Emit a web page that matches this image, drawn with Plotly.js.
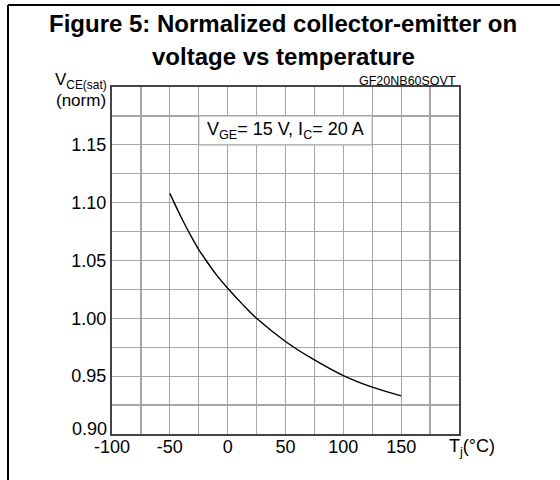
<!DOCTYPE html>
<html>
<head>
<meta charset="utf-8">
<script src="https://cdn.plot.ly/plotly-3.0.1.min.js"></script>
<style>
  html, body { margin: 0; padding: 0; background: #fff; }
  #chart { width: 560px; height: 480px; }
</style>
</head>
<body>
<div id="chart"></div>
<script>
// Data
const tempC = [-50, -40, -30, -25, -20, -10, 0, 12.5, 25, 50, 75, 100, 125, 150];
const vceNorm = [1.108, 1.087, 1.068, 1.0595, 1.052, 1.038, 1.026, 1.0125, 1.000, 0.980, 0.964, 0.9505, 0.9405, 0.933];

const xTickVals = [-100, -50, 0, 50, 100, 150];
const xTickText = ['-100', '-50', '0', '50', '100', '150'];
const xGridVals = [-100, -75, -50, -25, 0, 25, 50, 75, 100, 125, 150, 175, 200];
const yTickVals = [0.95, 1.00, 1.05, 1.10, 1.15];
const yTickText = ['0.95', '1.00', '1.05', '1.10', '1.15'];
const yBottomLabel = '0.90';
const yGridVals = [0.90, 0.925, 0.95, 0.975, 1.00, 1.025, 1.05, 1.075, 1.10, 1.125, 1.15, 1.175, 1.20];

const FONT = 'Liberation Sans, Arial, Helvetica, sans-serif';
const GRID = '#a6a6a6';

const trace = {
  x: tempC,
  y: vceNorm,
  type: 'scatter',
  mode: 'lines',
  line: { color: '#000', width: 1.4, shape: 'spline', smoothing: 1 },
  hoverinfo: 'skip'
};

// pixel -> paper helpers (plot area: x 112..459, y 87..434)
const L = 112, R = 459, T = 87, B = 434;
const px = v => (v - L) / (R - L);
const py = v => (B - v) / (B - T);

const layout = {
  width: 560,
  height: 480,
  margin: { l: L, r: 560 - R, t: T, b: 480 - B, pad: 0 },
  paper_bgcolor: '#fff',
  plot_bgcolor: '#fff',
  showlegend: false,
  font: { family: FONT, color: '#000', size: 18 },
  xaxis: {
    range: [-100, 200],
    tickmode: 'array', tickvals: xTickVals, ticktext: xTickText,
    showgrid: true, gridcolor: GRID, gridwidth: 1.2,
    minor: { tickmode: 'array', tickvals: xGridVals, showgrid: true, gridcolor: GRID, gridwidth: 1.2, ticks: '' },
    zeroline: false,
    showline: true, mirror: true, linecolor: '#444', linewidth: 2,
    ticks: '', ticklabelstandoff: -5,
    tickfont: { family: FONT, size: 18, color: '#000' },
    fixedrange: true
  },
  yaxis: {
    range: [0.90, 1.20],
    tickmode: 'array', tickvals: yTickVals, ticktext: yTickText,
    showgrid: true, gridcolor: GRID, gridwidth: 1.2,
    minor: { tickmode: 'array', tickvals: yGridVals, showgrid: true, gridcolor: GRID, gridwidth: 1.2, ticks: '' },
    zeroline: false,
    showline: true, mirror: true, linecolor: '#444', linewidth: 2,
    ticks: '',
    tickfont: { family: FONT, size: 18, color: '#000' },
    fixedrange: true
  },
  shapes: [
    // white box behind the conditions label
    { type: 'rect', xref: 'x', yref: 'y', x0: -25, x1: 125, y0: 1.15, y1: 1.175,
      fillcolor: '#fff', line: { color: GRID, width: 1.2 }, layer: 'between' },
    // frame lines (left and top)
    { type: 'line', xref: 'paper', yref: 'paper', x0: px(8), x1: px(8), y0: py(482), y1: py(5),
      line: { color: '#000', width: 2 } },
    { type: 'line', xref: 'paper', yref: 'paper', x0: px(8), x1: px(562), y0: py(5), y1: py(5),
      line: { color: '#000', width: 2 } }
  ],
  annotations: [
    { text: '<b>Figure 5: Normalized collector-emitter on</b>', xref: 'paper', yref: 'paper',
      x: px(283), y: py(23), showarrow: false, xanchor: 'center', yanchor: 'middle',
      font: { family: FONT, size: 24, color: '#000' } },
    { text: '<b>voltage vs temperature</b>', xref: 'paper', yref: 'paper',
      x: px(283), y: py(56), showarrow: false, xanchor: 'center', yanchor: 'middle',
      font: { family: FONT, size: 24, color: '#000' } },
    { text: 'V<sub>GE</sub>= 15 V, I<sub>C</sub>= 20 A', xref: 'x', yref: 'y', x: 50, y: 1.1625,
      showarrow: false, xanchor: 'center', yanchor: 'middle',
      font: { family: FONT, size: 18, color: '#000' } },
    { text: 'V<sub>CE(sat)</sub>', xref: 'paper', yref: 'paper', x: px(109), y: py(81),
      showarrow: false, xanchor: 'right', yanchor: 'middle',
      font: { family: FONT, size: 17, color: '#000' } },
    { text: '(norm)', xref: 'paper', yref: 'paper', x: px(108), y: py(100),
      showarrow: false, xanchor: 'right', yanchor: 'middle',
      font: { family: FONT, size: 17, color: '#000' } },
    { text: yBottomLabel, xref: 'paper', yref: 'paper', x: px(109), y: py(429),
      showarrow: false, xanchor: 'right', yanchor: 'middle',
      font: { family: FONT, size: 18, color: '#000' } },
    { text: 'GF20NB60SOVT', xref: 'paper', yref: 'paper', x: px(458), y: py(81),
      showarrow: false, xanchor: 'right', yanchor: 'middle',
      font: { family: FONT, size: 12.5, color: '#000' } },
    { text: 'T<sub>j</sub>(°C)', xref: 'paper', yref: 'paper', x: px(447), y: py(447),
      showarrow: false, xanchor: 'left', yanchor: 'middle',
      font: { family: FONT, size: 18, color: '#000' } }
  ]
};

Plotly.newPlot('chart', [trace], layout, { displayModeBar: false, staticPlot: true });
</script>
</body>
</html>
